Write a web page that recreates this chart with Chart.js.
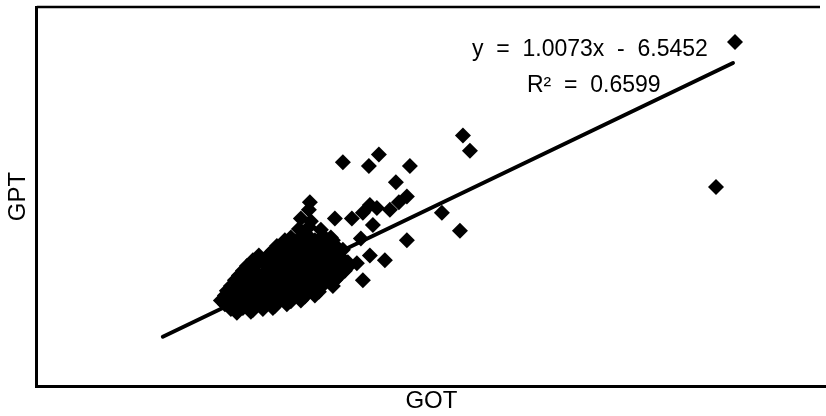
<!DOCTYPE html>
<html>
<head>
<meta charset="utf-8">
<script src="https://cdn.jsdelivr.net/npm/chart.js@4/dist/chart.umd.min.js"></script>
<style>
  html, body { margin: 0; padding: 0; background: #fff; }
  #wrap { width: 826px; height: 416px; }
</style>
</head>
<body>
<div id="wrap"><canvas id="chart"></canvas></div>
<script>
// GOT (x) / GPT (y) values
// outliers first, then the dense cluster row by row
const got = [
  349, 339.5, 213, 216.5, 153, 171, 166, 186.5, 179.5, 185,
  181, 176.5, 166.5, 157.5, 149, 168, 162, 202.5, 211.5, 185,
  170, 174, 166.5, 163, 160, 136.5, 155.5, 150.5, 119, 163,
  136,
  137, 132,
  131, 136, 142,
  127, 133, 137, 143, 147,
  124, 129, 134, 139, 144, 148,
  120, 126, 130, 135, 140, 145, 150,
  118, 124, 128, 133, 138, 143, 148, 153,
  111, 116, 121, 127, 131, 136, 141, 146, 152,
  108, 113, 118, 123, 128, 133, 138, 143, 149, 154,
  105, 110, 116, 120, 125, 130, 135, 140, 146, 151, 155,
  103, 108, 114, 118, 123, 128, 133, 138, 144, 149, 154,
  101, 107, 111, 117, 121, 126, 131, 136, 141, 146, 151,
  99, 104, 109, 114, 119, 124, 129, 134, 139, 144, 149,
  97, 102, 108, 112, 118, 122, 128, 132, 137, 143, 148,
  95, 100, 106, 111, 116, 121, 126, 131, 136, 141,
  94, 99, 104, 109, 114, 119, 124, 129, 134, 139,
  92, 97, 102, 107, 112, 117, 122, 127, 132,
  94, 100, 104, 110, 114, 119, 125,
  97, 103, 108, 113, 118,
  100, 107
];
const gpt = [
  366, 214, 268, 252, 240, 248, 236, 236, 219, 204,
  198, 190, 195, 181, 181, 174, 160, 187, 168, 158,
  192, 137, 142, 116, 134, 198, 135, 145, 147, 187,
  190,
  178, 181,
  170, 172, 169,
  161, 163, 160, 163, 161,
  158, 157, 159, 158, 157, 158,
  152, 154, 151, 153, 152, 154, 151,
  147, 148, 146, 147, 148, 146, 147, 148,
  142, 143, 141, 143, 142, 141, 143, 142, 140,
  137, 136, 138, 137, 136, 137, 138, 136, 137, 136,
  131, 133, 130, 132, 131, 133, 131, 132, 130, 132, 129,
  126, 127, 125, 126, 127, 126, 125, 127, 126, 125, 126,
  121, 122, 120, 122, 121, 120, 122, 121, 120, 122, 120,
  116, 115, 116, 117, 115, 116, 115, 117, 116, 115, 116,
  110, 111, 109, 111, 110, 109, 111, 110, 109, 111, 110,
  105, 106, 104, 105, 106, 105, 104, 106, 105, 104,
  100, 101, 99, 100, 101, 99, 100, 101, 99, 100,
  95, 94, 96, 95, 94, 95, 96, 94, 95,
  91, 90, 89, 91, 90, 89, 91,
  86, 87, 85, 86, 87,
  82, 83
];

// linear trendline as printed on the chart
const slope = 1.0073;
const intercept = -6.5452;
const rSquared = 0.6599;
const trendFrom = 63;
const trendTo = 348;

const points = got.map((x, i) => ({ x: x, y: gpt[i] }));
const trend = [trendFrom, trendTo].map(x => ({ x: x, y: slope * x + intercept }));

const FONT = '"Liberation Sans", Arial, sans-serif';

const frameAndLabel = {
  id: 'frameAndLabel',
  afterDraw(chart) {
    const { ctx, chartArea } = chart;
    ctx.save();
    ctx.strokeStyle = '#000';
    ctx.lineWidth = 2.5;
    ctx.beginPath();
    ctx.moveTo(chartArea.left, chartArea.top);
    ctx.lineTo(chartArea.right - 6, chartArea.top);
    ctx.stroke();

    ctx.fillStyle = '#000';
    ctx.font = '23px ' + FONT;
    ctx.textAlign = 'left';
    ctx.textBaseline = 'alphabetic';
    ctx.fillText('y  =  ' + slope.toFixed(4) + 'x  -  ' + Math.abs(intercept).toFixed(4), 472, 56);
    ctx.fillText('R\u00b2  =  ' + rSquared.toFixed(4), 527, 92);
    ctx.restore();
  }
};

new Chart(document.getElementById('chart'), {
  data: {
    datasets: [
      {
        type: 'line',
        data: trend,
        borderColor: '#000',
        borderWidth: 4,
        borderCapStyle: 'round',
        pointRadius: 0,
        order: 0
      },
      {
        type: 'scatter',
        data: points,
        pointStyle: 'rectRot',
        pointRadius: 8,
        backgroundColor: '#000',
        borderColor: '#000',
        borderWidth: 0,
        order: 1
      }
    ]
  },
  options: {
    responsive: true,
    maintainAspectRatio: false,
    animation: false,
    layout: { autoPadding: false, padding: { top: 7, right: 0, left: 0, bottom: 0 } },
    plugins: {
      legend: { display: false },
      tooltip: { enabled: false }
    },
    scales: {
      x: {
        type: 'linear',
        min: 0,
        max: 394.5,
        grid: { display: false, drawTicks: false },
        ticks: { display: false },
        border: { display: true, color: '#000', width: 3 },
        title: {
          display: true,
          text: 'GOT',
          color: '#000',
          font: { family: FONT, size: 24 },
          padding: { top: 1, bottom: 0 }
        }
      },
      y: {
        type: 'linear',
        min: 5,
        max: 402.7,
        grid: { display: false, drawTicks: false },
        ticks: { display: false },
        border: { display: true, color: '#000', width: 3 },
        title: {
          display: true,
          text: 'GPT',
          color: '#000',
          font: { family: FONT, size: 24 },
          padding: { top: 4, bottom: 4 }
        }
      }
    }
  },
  plugins: [frameAndLabel]
});
</script>
</body>
</html>
